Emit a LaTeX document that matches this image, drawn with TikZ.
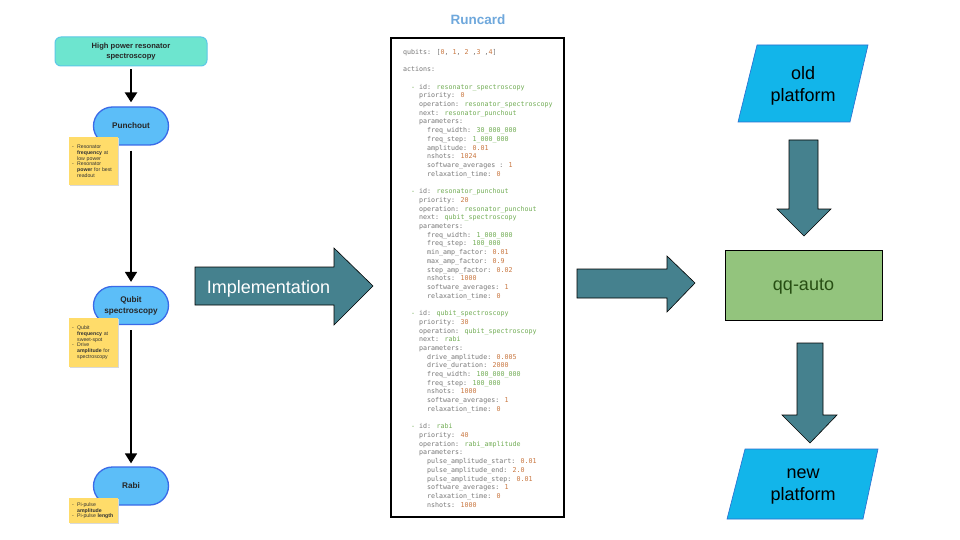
\documentclass[tikz,border=0pt]{standalone}
\usepackage{fontspec}
\setmainfont{Liberation Sans}
\newfontfamily\monof{DejaVu Sans Mono}
\usetikzlibrary{arrows.meta}
\definecolor{arrowfill}{HTML}{45818E}
\definecolor{platfill}{HTML}{12B5EA}
\definecolor{platdraw}{HTML}{2A6DD0}
\definecolor{qqfill}{HTML}{93C47D}
\definecolor{qqtext}{HTML}{274E13}
\definecolor{titleblue}{HTML}{6FA8DC}
\definecolor{hprsfill}{HTML}{6DE5CF}
\definecolor{hprsdraw}{HTML}{5CC8E6}
\definecolor{stadfill}{HTML}{5CBEF8}
\definecolor{staddraw}{HTML}{3A6AE8}
\definecolor{notefill}{HTML}{FFDC6A}
\definecolor{codegray}{HTML}{777777}
\definecolor{codegreen}{HTML}{72AD55}
\definecolor{codeorange}{HTML}{C97740}
\newcommand\gnv[1]{\textcolor{codegreen}{#1}}
\newcommand\orv[1]{\textcolor{codeorange}{#1}}
\newcommand\bul{\makebox[5pt][l]{-}}
\newcommand\ind{\hspace*{5pt}}
\newcommand\cln[3]{\node[code] (cl#1) at ({403+4*#2},{54.3+8.71*#1}) {#3};}
\tikzset{
  code/.style={anchor=base west, inner sep=0pt, font=\monof\fontsize{6.65}{8}\selectfont, text=codegray},
  blockarrow/.style={fill=arrowfill, draw=black, line width=0.6pt, line join=miter},
  plat/.style={fill=platfill, draw=platdraw, line width=0.6pt},
  bigtext/.style={font=\fontsize{18}{22}\selectfont, align=center, inner sep=0pt},
  hprs/.style={fill=hprsfill, draw=hprsdraw, line width=1pt, rounded corners=6pt, minimum width=152pt, minimum height=29pt, align=center, font=\bfseries\fontsize{7.6}{10}\selectfont, text=black!85, inner sep=0pt},
  stad/.style={fill=stadfill, draw=staddraw, line width=1.3pt, rounded corners=19pt, minimum width=75pt, minimum height=38pt, align=center, font=\bfseries\fontsize{8.2}{11}\selectfont, text=black!85, inner sep=0pt},
  note/.style={fill=notefill, anchor=north west, minimum width=49pt, text width=43pt, inner xsep=3pt, inner ysep=3pt, align=left, font=\fontsize{5.2}{5.8}\selectfont, text=black!80,
    preaction={fill=black!15, transform canvas={xshift=0.8pt, yshift=-1.2pt}}},
  flowarrow/.style={draw=black, line width=1.8pt, -{Triangle[width=12pt,length=10pt]}},
}
\begin{document}
\begin{tikzpicture}[x=1pt,y=-1pt]
\fill[white] (0,0) rectangle (960,540);
\useasboundingbox (0,0) rectangle (960,540);

% ---------- left flow ----------
\node[hprs] (hprs) at (131,51.5) {High power resonator\\spectroscopy};
\node[stad] (punch) at (131,126) {Punchout};
\node[stad] (qubit) at (131,305.5) {Qubit\\spectroscopy};
\node[stad] (rabi) at (131,486) {Rabi};

\draw[flowarrow, line width=2.5pt] ([yshift=-3pt]hprs.south) -- ([yshift=4pt]punch.north);
\draw[flowarrow] ([yshift=-5pt]punch.south) -- ([yshift=4pt]qubit.north);
\draw[flowarrow] ([yshift=-5pt]qubit.south) -- ([yshift=3pt]rabi.north);

\node[note, minimum height=48pt] (n1) at (69,137) {\bul Resonator\\ \ind\textbf{frequency} at\\ \ind low power\\ \bul Resonator\\ \ind\textbf{power} for best\\ \ind readout};
\node[note, minimum height=49pt] (n2) at (69,318) {\bul Qubit\\ \ind\textbf{frequency} at\\ \ind sweet-spot\\ \bul Drive\\ \ind\textbf{amplitude} for\\ \ind spectroscopy};
\node[note, minimum height=25pt] (n3) at (69,498) {\bul Pi-pulse\\ \ind\textbf{amplitude}\\ \bul\mbox{Pi-pulse \textbf{length}}};

% ---------- implementation arrow ----------
\path[blockarrow] (195,267) -- (334,267) -- (334,248) -- (373,286) -- (334,325) -- (334,305) -- (195,305) -- cycle;
\node[bigtext, text=white] (impl) at (268.5,289) {Implementation};

% ---------- runcard ----------
\node[font=\bfseries\fontsize{13.5}{16}\selectfont, text=titleblue, inner sep=0pt] (rctitle) at (478,20) {Runcard};
\draw[line width=1.2pt] (391,38) rectangle (564,517);

\cln{0}{0}{qubits: [\orv{0}, \orv{1}, \orv{2} ,\orv{3} ,\orv{4}]}
\cln{2}{0}{actions:}
\cln{4}{2}{\gnv{-} id: \gnv{resonator\_spectroscopy}}
\cln{5}{4}{priority: \orv{0}}
\cln{6}{4}{operation: \gnv{resonator\_spectroscopy}}
\cln{7}{4}{next: \gnv{resonator\_punchout}}
\cln{8}{4}{parameters:}
\cln{9}{6}{freq\_width: \gnv{30\_000\_000}}
\cln{10}{6}{freq\_step: \gnv{1\_000\_000}}
\cln{11}{6}{amplitude: \orv{0.01}}
\cln{12}{6}{nshots: \orv{1024}}
\cln{13}{6}{software\_averages : \orv{1}}
\cln{14}{6}{relaxation\_time: \orv{0}}

\cln{16}{2}{\gnv{-} id: \gnv{resonator\_punchout}}
\cln{17}{4}{priority: \orv{20}}
\cln{18}{4}{operation: \gnv{resonator\_punchout}}
\cln{19}{4}{next: \gnv{qubit\_spectroscopy}}
\cln{20}{4}{parameters:}
\cln{21}{6}{freq\_width: \gnv{1\_000\_000}}
\cln{22}{6}{freq\_step: \gnv{100\_000}}
\cln{23}{6}{min\_amp\_factor: \orv{0.01}}
\cln{24}{6}{max\_amp\_factor: \orv{0.9}}
\cln{25}{6}{step\_amp\_factor: \orv{0.02}}
\cln{26}{6}{nshots: \orv{1000}}
\cln{27}{6}{software\_averages: \orv{1}}
\cln{28}{6}{relaxation\_time: \orv{0}}

\cln{30}{2}{\gnv{-} id: \gnv{qubit\_spectroscopy}}
\cln{31}{4}{priority: \orv{30}}
\cln{32}{4}{operation: \gnv{qubit\_spectroscopy}}
\cln{33}{4}{next: \gnv{rabi}}
\cln{34}{4}{parameters:}
\cln{35}{6}{drive\_amplitude: \orv{0.005}}
\cln{36}{6}{drive\_duration: \orv{2000}}
\cln{37}{6}{freq\_width: \gnv{100\_000\_000}}
\cln{38}{6}{freq\_step: \gnv{100\_000}}
\cln{39}{6}{nshots: \orv{1000}}
\cln{40}{6}{software\_averages: \orv{1}}
\cln{41}{6}{relaxation\_time: \orv{0}}

\cln{43}{2}{\gnv{-} id: \gnv{rabi}}
\cln{44}{4}{priority: \orv{40}}
\cln{45}{4}{operation: \gnv{rabi\_amplitude}}
\cln{46}{4}{parameters:}
\cln{47}{6}{pulse\_amplitude\_start: \orv{0.01}}
\cln{48}{6}{pulse\_amplitude\_end: \orv{2.0}}
\cln{49}{6}{pulse\_amplitude\_step: \orv{0.01}}
\cln{50}{6}{software\_averages: \orv{1}}
\cln{51}{6}{relaxation\_time: \orv{0}}
\cln{52}{6}{nshots: \orv{1000}}

% ---------- second arrow ----------
\path[blockarrow] (577,269) -- (667,269) -- (667,256) -- (695,283) -- (667,312) -- (667,298) -- (577,298) -- cycle;

% ---------- right column ----------
\path[plat] (757,45) -- (868,45) -- (850,122) -- (738,122) -- cycle;
\node[bigtext] (old) at (803,86) {old\\platform};

\path[blockarrow] (789,140) -- (818,140) -- (818,209) -- (831,209) -- (804,236) -- (777,209) -- (789,209) -- cycle;

\node[draw=black, line width=0.9pt, fill=qqfill, minimum width=157pt, minimum height=70pt, text depth=0pt, font=\fontsize{18}{22}\selectfont, text=qqtext] (qq) at (803.5,285) {qq-auto};

\path[blockarrow] (797,343) -- (823,343) -- (823,415) -- (837,415) -- (810,443) -- (782,415) -- (797,415) -- cycle;

\path[plat] (745,449) -- (878,449) -- (863,519) -- (727,519) -- cycle;
\node[bigtext] (new) at (803,487) {new\\platform};
\end{tikzpicture}
\end{document}
